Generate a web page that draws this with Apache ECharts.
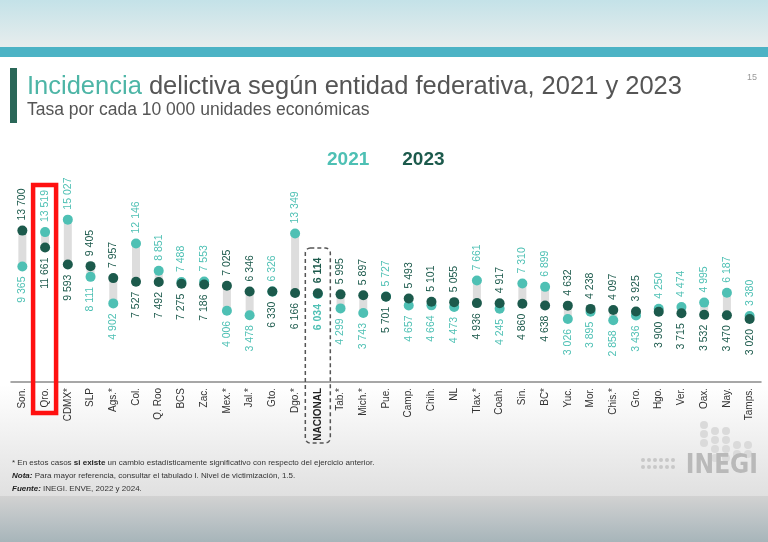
<!DOCTYPE html>
<html>
<head>
<meta charset="utf-8">
<script src="https://cdn.jsdelivr.net/npm/echarts@6/dist/echarts.min.js"></script>
<style>
  html, body { margin: 0; padding: 0; background: #fff; }
  #main { width: 768px; height: 542px; }
</style>
</head>
<body>
<div id="main"></div>
<script>
// entidades, ordenadas como en la lámina
var categories = ['Son.', 'Qro.', 'CDMX*', 'SLP', 'Ags.*', 'Col.', 'Q. Roo', 'BCS', 'Zac.', 'Mex.*', 'Jal.*', 'Gto.', 'Dgo.*',
    'NACIONAL', 'Tab.*', 'Mich.*', 'Pue.', 'Camp.', 'Chih.', 'NL', 'Tlax.*', 'Coah.', 'Sin.', 'BC*', 'Yuc.', 'Mor.',
    'Chis.*', 'Gro.', 'Hgo.', 'Ver.', 'Oax.', 'Nay.', 'Tamps.'];
var values2021 = [9365, 13519, 15027, 8111, 4902, 12146, 8851, 7488, 7553, 4006, 3478, 6326, 13349,
    6034, 4299, 3743, 5727, 4657, 4664, 4473, 7661, 4245, 7310, 6899, 3026, 3895,
    2858, 3436, 4250, 4474, 4995, 6187, 3380];
var values2023 = [13700, 11661, 9593, 9405, 7957, 7527, 7492, 7275, 7186, 7025, 6346, 6330, 6166,
    6114, 5995, 5897, 5701, 5493, 5101, 5055, 4936, 4917, 4860, 4638, 4632, 4238,
    4097, 3925, 3900, 3715, 3532, 3470, 3020];
var seriesNames = ['2021', '2023'];

var colTeal = '#4ec0b4';
var colDark = '#1c5a4c';

function fmt(v) {
    return String(v).replace(/\B(?=(\d{3})+(?!\d))/g, ' ');
}

var baseData = [], gapData = [], d2021 = [], d2023 = [];
for (var i = 0; i < categories.length; i++) {
    var a = values2021[i], b = values2023[i];
    baseData.push(Math.min(a, b));
    gapData.push(Math.abs(a - b));
    var up2021 = (a - b) > -50;
    var bold = categories[i] == 'NACIONAL' ? 'bold' : 'normal';
    d2021.push({
        value: a,
        label: { position: up2021 ? 'top' : 'bottom', align: up2021 ? 'left' : 'right', fontWeight: bold }
    });
    d2023.push({
        value: b,
        label: { position: up2021 ? 'bottom' : 'top', align: up2021 ? 'right' : 'left', fontWeight: bold }
    });
}

function pointLabel(color) {
    return {
        show: true,
        rotate: 90,
        distance: 5,
        verticalAlign: 'middle',
        fontFamily: 'Liberation Sans',
        fontSize: 10.5,
        color: color,
        formatter: function (p) { return fmt(p.value); }
    };
}

var myChart = echarts.init(document.getElementById('main'));

var option = {
    backgroundColor: '#ffffff',
    animation: false,
    textStyle: { fontFamily: 'Liberation Sans' },
    legend: {
        left: 317,
        top: 145,
        icon: 'none',
        itemWidth: 0,
        itemGap: 28,
        selectedMode: false,
        textStyle: { fontSize: 19, fontWeight: 'bold', fontFamily: 'Liberation Sans' },
        data: [
            { name: seriesNames[0], textStyle: { color: colTeal } },
            { name: seriesNames[1], textStyle: { color: colDark } }
        ]
    },
    grid: { left: 11, right: 7, top: 200, bottom: 160 },
    xAxis: {
        type: 'category',
        data: categories,
        axisLine: { onZero: false, lineStyle: { color: '#8a8a8a', width: 1.5 } },
        axisTick: { show: false },
        axisLabel: {
            rotate: 90,
            interval: 0,
            margin: 6,
            fontSize: 10,
            color: '#333',
            formatter: function (v) {
                return v == 'NACIONAL' ? '{b|' + v + '}' : v;
            },
            rich: { b: { fontWeight: 'bold', fontSize: 10, color: '#222' } }
        }
    },
    yAxis: {
        type: 'value',
        min: -4600,
        max: 17400,
        show: false,
        splitLine: { show: false }
    },
    series: [
        {
            type: 'bar', stack: 'rango', barWidth: 8, silent: true,
            itemStyle: { color: 'rgba(0,0,0,0)' },
            data: baseData
        },
        {
            type: 'bar', stack: 'rango', barWidth: 8, silent: true,
            itemStyle: { color: '#dddddd' },
            data: gapData
        },
        {
            name: seriesNames[0],
            type: 'scatter',
            symbolSize: 10,
            itemStyle: { color: colTeal, opacity: 1 },
            label: pointLabel(colTeal),
            data: d2021
        },
        {
            name: seriesNames[1],
            type: 'scatter',
            symbolSize: 10,
            itemStyle: { color: colDark, opacity: 1 },
            label: pointLabel(colDark),
            data: d2023
        }
    ]
};
myChart.setOption(option);

// marcos: NACIONAL (punteado) y Qro. (rojo)
var xNac = myChart.convertToPixel({ xAxisIndex: 0 }, 'NACIONAL');
var xQro = myChart.convertToPixel({ xAxisIndex: 0 }, 'Qro.');

var logoDots = [];
var dotCols = [[0, 3], [1, 4], [2, 4], [3, 2], [4, 2]];
for (var c = 0; c < dotCols.length; c++) {
    for (var r = 0; r < dotCols[c][1]; r++) {
        logoDots.push({
            type: 'circle', z: -5,
            shape: { cx: 704 + dotCols[c][0] * 11, cy: 425 + r * 9 + (c == 0 ? 0 : (c < 3 ? 6 : 20)), r: 4 },
            style: { fill: '#dadada' }
        });
    }
}
for (var k = 0; k < 12; k++) {
    logoDots.push({
        type: 'circle', z: -5,
        shape: { cx: 643 + (k % 6) * 6, cy: 460 + Math.floor(k / 6) * 7, r: 2 },
        style: { fill: '#c8c8c8' }
    });
}

myChart.setOption({
    graphic: [
        // fondo de la foto
        { type: 'rect', z: -20, shape: { x: 0, y: 0, width: 768, height: 47 },
          style: { fill: new echarts.graphic.LinearGradient(0, 0, 0, 1, [{ offset: 0, color: '#c4e2e8' }, { offset: 1, color: '#e7eded' }]) } },
        { type: 'rect', z: -20, shape: { x: 0, y: 47, width: 768, height: 10 }, style: { fill: '#4cb3c5' } },
        { type: 'rect', z: -20, shape: { x: 0, y: 385, width: 768, height: 111 },
          style: { fill: new echarts.graphic.LinearGradient(0, 0, 0, 1, [{ offset: 0, color: '#ffffff' }, { offset: 1, color: '#e0e0e0' }]) } },
        { type: 'rect', z: -20, shape: { x: 0, y: 496, width: 768, height: 46 },
          style: { fill: new echarts.graphic.LinearGradient(0, 0, 0, 1, [{ offset: 0, color: '#d2d2d2' }, { offset: 1, color: '#a7b5ba' }]) } },
        // título
        { type: 'rect', shape: { x: 10, y: 68, width: 7, height: 55 }, style: { fill: '#2a6758' } },
        { type: 'text', x: 27, y: 87, style: {
            text: '{t|Incidencia}{g| delictiva según entidad federativa, 2021 y 2023}',
            verticalAlign: 'middle',
            rich: {
                t: { fontSize: 25.5, fontFamily: 'Liberation Sans', fill: '#4db5a6' },
                g: { fontSize: 25.5, fontFamily: 'Liberation Sans', fill: '#555555' }
            }
        } },
        { type: 'text', x: 27, y: 110, style: { text: 'Tasa por cada 10 000 unidades económicas', fontSize: 17.5, fontFamily: 'Liberation Sans', fill: '#555555', verticalAlign: 'middle' } },
        { type: 'text', x: 747, y: 78, style: { text: '15', fontSize: 9, fontFamily: 'Liberation Sans', fill: '#999999', verticalAlign: 'middle' } },
        // marco punteado NACIONAL
        { type: 'rect', z: 10, shape: { x: xNac - 12.5, y: 248, width: 25, height: 195, r: 5 },
          style: { fill: 'none', stroke: '#555555', lineWidth: 1.5, lineDash: [4, 3] } },
        // recuadro rojo Qro.
        { type: 'rect', z: 10, shape: { x: xQro - 12, y: 185, width: 23, height: 228 },
          style: { fill: 'none', stroke: '#ff1010', lineWidth: 4.5 } },
        // notas
        { type: 'text', x: 12, y: 463, style: {
            text: '* En estos casos {b|si existe} un cambio estadísticamente significativo con respecto del ejercicio anterior.',
            fontSize: 8, fontFamily: 'Liberation Sans', fill: '#333333', verticalAlign: 'middle',
            rich: { b: { fontWeight: 'bold', fontSize: 8, fill: '#222' } }
        } },
        { type: 'text', x: 12, y: 476, style: {
            text: '{b|Nota:} Para mayor referencia, consultar el tabulado I. Nivel de victimización, 1.5.',
            fontSize: 8, fontFamily: 'Liberation Sans', fill: '#333333', verticalAlign: 'middle',
            rich: { b: { fontWeight: 'bold', fontStyle: 'italic', fontSize: 8, fill: '#222' } }
        } },
        { type: 'text', x: 12, y: 489, style: {
            text: '{b|Fuente:} INEGI. ENVE, 2022 y 2024.',
            fontSize: 8, fontFamily: 'Liberation Sans', fill: '#333333', verticalAlign: 'middle',
            rich: { b: { fontWeight: 'bold', fontStyle: 'italic', fontSize: 8, fill: '#222' } }
        } },
        // logo
        { type: 'text', x: 758, y: 466, z: -4, style: { text: 'INEGI', fontSize: 26, fontWeight: 'bold', fontFamily: 'DejaVu Sans Condensed, Liberation Sans, sans-serif', fill: '#b9b9b9', align: 'right', verticalAlign: 'middle' } }
    ].concat(logoDots)
});
</script>
</body>
</html>
